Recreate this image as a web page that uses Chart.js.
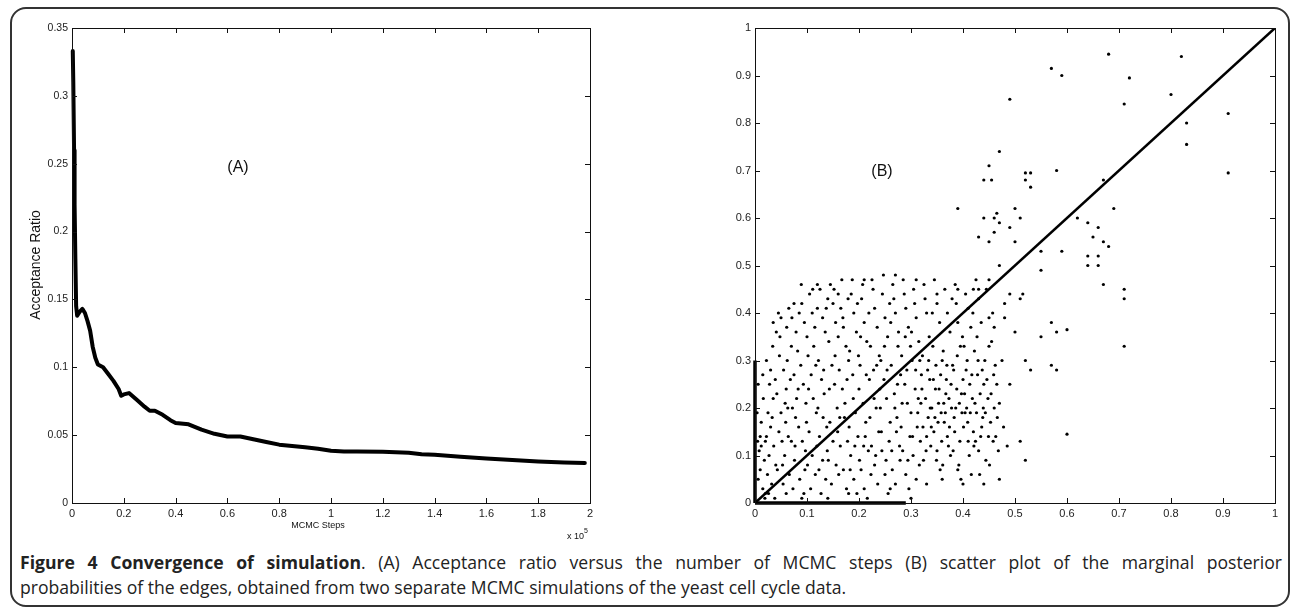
<!doctype html>
<html lang="en">
  <head>
    <meta charset="utf-8">
    <title>Figure 4 Convergence of simulation</title>
    <style>
      * { margin: 0; padding: 0; }
      body { width: 1293px; height: 608px; background: #fff; position: relative; overflow: hidden; font-family: "Liberation Sans", Arial, sans-serif; }
      .frame {
        position: absolute; left: 10px; top: 7px; width: 1276px; height: 596px;
        border: 2px solid #333; border-radius: 16px;
      }
      #chartA { position: absolute; left: 0; top: 0; }
      #chartB { position: absolute; left: 650px; top: 0; }
      .caption {
        position: absolute; left: 20px; top: 550px; width: 1262px;
        font-family: "Open Sans", sans-serif; font-size: 17.6px; line-height: 25px; color: #222;
      }
      .caption .l1 { text-align: justify; text-align-last: justify; white-space: nowrap; }
    </style>
  </head>
  <body>
    <div class="frame"></div>
    <canvas id="chartA" width="640" height="545"></canvas>
    <canvas id="chartB" width="643" height="545"></canvas>
    <div class="caption">
      <div class="l1"><b>Figure 4 Convergence of simulation</b>. (A) Acceptance ratio versus the number of MCMC steps (B) scatter plot of the marginal posterior</div>
      <div>probabilities of the edges, obtained from two separate MCMC simulations of the yeast cell cycle data.</div>
    </div>

    <script src="https://cdn.jsdelivr.net/npm/chart.js"></script>
    <script>
    // (A) acceptance ratio vs MCMC steps
    const mcmcSteps = [300, 500, 800, 1000, 1300, 1600, 2000, 3000, 4000, 5000, 6000, 7000, 8000, 9000,
      10000, 12000, 14000, 16000, 18000, 19000, 20000, 22000, 25000, 28000, 30000, 32000, 35000, 38000,
      40000, 45000, 50000, 55000, 60000, 65000, 70000, 75000, 80000, 85000, 90000, 95000, 100000,
      105000, 110000, 120000, 130000, 135000, 140000, 150000, 160000, 170000, 180000, 190000, 198000];
    const acceptRatio = [0.333, 0.31, 0.26, 0.22, 0.18, 0.145, 0.138, 0.141, 0.143, 0.14, 0.134, 0.127, 0.115, 0.107,
      0.102, 0.1, 0.095, 0.09, 0.084, 0.079, 0.08, 0.081, 0.076, 0.071, 0.068, 0.068, 0.065, 0.061,
      0.059, 0.058, 0.054, 0.051, 0.049, 0.049, 0.047, 0.045, 0.043, 0.042, 0.041, 0.04, 0.0385,
      0.038, 0.038, 0.0377, 0.037, 0.036, 0.0355, 0.034, 0.0328, 0.0316, 0.0305, 0.0298, 0.0295];
    const stepTicks = [0, 0.2, 0.4, 0.6, 0.8, 1, 1.2, 1.4, 1.6, 1.8, 2]; // x 10^5
    const ratioTicks = [0, 0.05, 0.1, 0.15, 0.2, 0.25, 0.3, 0.35];

    // (B) marginal posterior probabilities, run 1 (x) vs run 2 (y)
    const edgePoints = [
      [0.005,0.13],[0.01,0.14],[0.008,0.11],[0.012,0.17],[0.006,0.05],[0.015,0.03],[0.01,0.07],[0.02,0.02],[0.018,0.09],[0.004,0.19],[0.016,0.22],[0.02,0.13],[0.012,0.12],[0.006,0.25],[0.019,0.01],
      [0.025,0.19],[0.03,0.28],[0.028,0.25],[0.035,0.22],[0.03,0.16],[0.024,0.06],[0.032,0.04],[0.038,0.01],[0.027,0.1],[0.036,0.12],[0.04,0.08],[0.022,0.3],[0.034,0.33],[0.039,0.26],[0.026,0.02],
      [0.045,0.4],[0.05,0.39],[0.048,0.35],[0.055,0.28],[0.042,0.23],[0.058,0.21],[0.05,0.19],[0.046,0.15],[0.052,0.13],[0.057,0.1],[0.043,0.07],[0.054,0.04],[0.06,0.24],[0.047,0.31],[0.059,0.17],
      [0.065,0.41],[0.07,0.33],[0.062,0.3],[0.075,0.27],[0.068,0.26],[0.072,0.2],[0.078,0.18],[0.064,0.14],[0.07,0.13],[0.076,0.09],[0.066,0.06],[0.073,0.03],[0.08,0.22],[0.061,0.37],[0.079,0.36],
      [0.085,0.4],[0.09,0.42],[0.095,0.38],[0.082,0.32],[0.088,0.29],[0.093,0.25],[0.098,0.21],[0.084,0.16],[0.091,0.13],[0.097,0.11],[0.086,0.05],[0.094,0.02],[0.1,0.35],[0.089,0.46],[0.099,0.17],
      [0.105,0.44],[0.11,0.4],[0.115,0.37],[0.102,0.31],[0.108,0.27],[0.112,0.22],[0.118,0.19],[0.104,0.15],[0.11,0.1],[0.116,0.06],[0.107,0.03],[0.12,0.41],[0.113,0.33],[0.119,0.12],[0.101,0.08],
      [0.125,0.45],[0.13,0.39],[0.135,0.36],[0.122,0.3],[0.128,0.26],[0.133,0.23],[0.138,0.16],[0.124,0.14],[0.13,0.09],[0.136,0.05],[0.127,0.02],[0.14,0.43],[0.132,0.28],[0.139,0.11],[0.121,0.2],
      [0.145,0.46],[0.15,0.42],[0.155,0.38],[0.142,0.34],[0.148,0.29],[0.153,0.25],[0.158,0.2],[0.144,0.17],[0.15,0.13],[0.156,0.08],[0.147,0.04],[0.16,0.35],[0.152,0.45],[0.159,0.15],[0.141,0.09],
      [0.165,0.41],[0.17,0.37],[0.175,0.33],[0.162,0.28],[0.168,0.24],[0.173,0.21],[0.178,0.13],[0.164,0.12],[0.17,0.07],[0.176,0.03],[0.167,0.47],[0.18,0.3],[0.172,0.18],[0.179,0.43],[0.161,0.06],
      [0.185,0.44],[0.19,0.4],[0.195,0.36],[0.182,0.32],[0.188,0.27],[0.193,0.19],[0.198,0.14],[0.184,0.1],[0.19,0.05],[0.196,0.02],[0.187,0.47],[0.2,0.24],[0.192,0.12],[0.199,0.31],[0.181,0.16],
      [0.205,0.43],[0.21,0.38],[0.215,0.34],[0.202,0.29],[0.208,0.21],[0.213,0.17],[0.218,0.11],[0.204,0.07],[0.21,0.03],[0.216,0.01],[0.207,0.46],[0.22,0.26],[0.212,0.14],[0.219,0.4],[0.201,0.09],
      [0.225,0.47],[0.23,0.41],[0.235,0.37],[0.222,0.33],[0.228,0.28],[0.233,0.2],[0.238,0.15],[0.224,0.12],[0.23,0.08],[0.236,0.04],[0.227,0.45],[0.24,0.24],[0.232,0.1],[0.239,0.31],[0.221,0.18],
      [0.245,0.44],[0.25,0.39],[0.255,0.35],[0.242,0.3],[0.248,0.26],[0.253,0.22],[0.258,0.13],[0.244,0.11],[0.25,0.06],[0.256,0.02],[0.247,0.48],[0.26,0.17],[0.252,0.09],[0.259,0.42],[0.241,0.2],
      [0.265,0.46],[0.27,0.4],[0.275,0.33],[0.262,0.29],[0.268,0.23],[0.273,0.18],[0.278,0.12],[0.264,0.07],[0.27,0.04],[0.276,0.36],[0.267,0.43],[0.28,0.27],[0.272,0.15],[0.279,0.09],[0.261,0.38],
      [0.285,0.47],[0.29,0.41],[0.295,0.37],[0.282,0.31],[0.288,0.25],[0.293,0.21],[0.298,0.14],[0.284,0.11],[0.29,0.06],[0.296,0.03],[0.287,0.44],[0.3,0.19],[0.292,0.28],[0.299,0.33],[0.281,0.16],
      [0.305,0.45],[0.31,0.39],[0.315,0.34],[0.302,0.3],[0.308,0.24],[0.313,0.19],[0.318,0.13],[0.304,0.1],[0.31,0.05],[0.316,0.08],[0.307,0.42],[0.32,0.27],[0.312,0.16],[0.319,0.21],[0.301,0.36],
      [0.325,0.46],[0.33,0.4],[0.335,0.35],[0.322,0.31],[0.328,0.22],[0.333,0.18],[0.338,0.12],[0.324,0.09],[0.33,0.14],[0.336,0.26],[0.327,0.43],[0.34,0.2],[0.332,0.28],[0.339,0.16],[0.321,0.24],
      [0.345,0.47],[0.35,0.42],[0.355,0.38],[0.342,0.33],[0.348,0.29],[0.353,0.21],[0.358,0.19],[0.344,0.15],[0.35,0.11],[0.356,0.07],[0.347,0.24],[0.36,0.3],[0.352,0.17],[0.359,0.13],[0.341,0.4],
      [0.365,0.45],[0.37,0.4],[0.375,0.36],[0.362,0.32],[0.368,0.26],[0.373,0.22],[0.378,0.2],[0.364,0.17],[0.37,0.14],[0.376,0.1],[0.367,0.23],[0.38,0.29],[0.372,0.12],[0.379,0.43],[0.361,0.08],
      [0.385,0.46],[0.39,0.38],[0.395,0.33],[0.382,0.28],[0.388,0.24],[0.393,0.21],[0.398,0.19],[0.384,0.15],[0.39,0.07],[0.396,0.05],[0.387,0.42],[0.4,0.26],[0.392,0.08],[0.399,0.35],[0.381,0.11],
      [0.405,0.44],[0.41,0.41],[0.415,0.37],[0.402,0.33],[0.408,0.3],[0.413,0.25],[0.418,0.22],[0.404,0.19],[0.41,0.13],[0.416,0.06],[0.407,0.2],[0.42,0.15],[0.412,0.1],[0.419,0.4],[0.401,0.16],
      [0.425,0.47],[0.43,0.43],[0.435,0.38],[0.422,0.32],[0.428,0.27],[0.433,0.23],[0.438,0.18],[0.424,0.13],[0.43,0.11],[0.436,0.16],[0.427,0.35],[0.44,0.25],[0.432,0.06],[0.439,0.2],[0.421,0.12],
      [0.445,0.45],[0.45,0.39],[0.455,0.34],[0.442,0.3],[0.448,0.22],[0.453,0.17],[0.458,0.13],[0.444,0.09],[0.46,0.2],[0.465,0.25],[0.468,0.11],[0.462,0.29],[0.457,0.4],[0.466,0.18],[0.451,0.08],
      [0.015,0.27],[0.022,0.14],[0.033,0.18],[0.041,0.36],[0.053,0.08],[0.063,0.2],[0.071,0.39],[0.077,0.12],[0.083,0.24],[0.096,0.07],[0.103,0.24],[0.111,0.45],[0.117,0.29],[0.123,0.07],
      [0.131,0.18],[0.137,0.41],[0.143,0.24],[0.154,0.31],[0.163,0.18],[0.169,0.39],[0.177,0.26],[0.183,0.07],[0.189,0.22],[0.197,0.42],[0.203,0.35],[0.209,0.12],[0.214,0.27],[0.223,0.06],
      [0.229,0.22],[0.234,0.29],[0.243,0.15],[0.249,0.33],[0.254,0.28],[0.263,0.11],[0.269,0.2],[0.274,0.25],[0.283,0.21],[0.289,0.35],[0.294,0.09],[0.303,0.14],[0.309,0.28],[0.314,0.22],
      [0.317,0.3],[0.323,0.16],[0.329,0.11],[0.334,0.3],[0.337,0.2],[0.343,0.26],[0.346,0.18],[0.349,0.09],[0.354,0.24],[0.357,0.27],[0.363,0.21],[0.366,0.19],[0.369,0.29],[0.374,0.16],
      [0.377,0.25],[0.383,0.18],[0.386,0.2],[0.389,0.31],[0.394,0.13],[0.397,0.23],[0.403,0.23],[0.406,0.28],[0.409,0.17],[0.414,0.19],[0.417,0.27],[0.423,0.21],[0.426,0.19],[0.429,0.3],
      [0.434,0.14],[0.437,0.28],[0.443,0.19],[0.446,0.26],[0.449,0.14],[0.454,0.23],[0.459,0.27],[0.463,0.14],[0.47,0.21],[0.475,0.3],[0.478,0.16],[0.48,0.42],[0.485,0.12],[0.49,0.25],
      [0.47,0.05],[0.44,0.04],[0.4,0.04],[0.36,0.05],[0.33,0.04],[0.3,0.01],[0.26,0.03],[0.18,0.02],[0.14,0.01],[0.09,0.01],[0.06,0.02],[0.35,0.44],[0.31,0.47],[0.27,0.48],
      [0.39,0.45],[0.43,0.45],[0.21,0.47],[0.16,0.44],[0.12,0.46],[0.075,0.42],[0.035,0.38],
      [0.57,0.915],[0.59,0.9],[0.68,0.945],[0.82,0.94],[0.72,0.895],[0.8,0.86],[0.71,0.84],[0.91,0.82],[0.83,0.8],[0.83,0.755],[0.91,0.695],[0.49,0.85],
      [0.47,0.74],[0.45,0.71],[0.44,0.68],[0.455,0.68],[0.52,0.695],[0.53,0.695],[0.52,0.68],[0.53,0.665],[0.58,0.7],[0.67,0.68],[0.69,0.62],[0.62,0.6],
      [0.64,0.59],[0.66,0.58],[0.65,0.56],[0.67,0.55],[0.68,0.54],[0.66,0.52],[0.64,0.52],[0.64,0.5],[0.66,0.5],[0.67,0.46],[0.71,0.45],[0.71,0.43],
      [0.71,0.33],[0.6,0.365],[0.6,0.145],[0.57,0.38],[0.58,0.36],[0.57,0.29],[0.58,0.28],[0.55,0.35],[0.59,0.53],[0.55,0.53],[0.55,0.49],[0.5,0.62],
      [0.51,0.6],[0.49,0.58],[0.5,0.55],[0.46,0.6],[0.47,0.59],[0.46,0.57],[0.45,0.55],[0.465,0.61],[0.44,0.6],[0.43,0.56],[0.42,0.45],[0.45,0.47],
      [0.47,0.5],[0.49,0.44],[0.51,0.43],[0.515,0.44],[0.52,0.3],[0.53,0.28],[0.51,0.13],[0.52,0.09],[0.5,0.36],[0.48,0.39],[0.46,0.37],[0.45,0.33],[0.39,0.62]
    ];
    // edges stuck at 0 in one run: they pile up on the axes
    const zeroRow = [[0, 0], [0.29, 0]];
    const zeroCol = [[0, 0], [0, 0.3]];
    const diagonal = [[0, 0], [1, 1]];
    const probTicks = [0, 0.1, 0.2, 0.3, 0.4, 0.5, 0.6, 0.7, 0.8, 0.9, 1];

    const toXY = arr => arr.map(p => ({ x: p[0], y: p[1] }));

    // matlab-ish box with inward ticks + free text
    const boxAxes = {
      id: 'boxAxes',
      afterDraw(chart, args, opts) {
        const { ctx, chartArea: { left, top, right, bottom }, scales: { x, y } } = chart;
        ctx.save();
        ctx.strokeStyle = '#111';
        ctx.lineWidth = 1;
        ctx.strokeRect(Math.round(left) + 0.5, Math.round(top) + 0.5, Math.round(right - left), Math.round(bottom - top));
        ctx.beginPath();
        x.ticks.forEach(t => {
          const px = Math.round(x.getPixelForValue(t.value)) + 0.5;
          ctx.moveTo(px, bottom); ctx.lineTo(px, bottom - 5);
          ctx.moveTo(px, top); ctx.lineTo(px, top + 5);
        });
        y.ticks.forEach(t => {
          const py = Math.round(y.getPixelForValue(t.value)) + 0.5;
          ctx.moveTo(left, py); ctx.lineTo(left + 5, py);
          ctx.moveTo(right, py); ctx.lineTo(right - 5, py);
        });
        ctx.stroke();
        ctx.fillStyle = '#111';
        (opts.texts || []).forEach(t => {
          ctx.save();
          ctx.font = t.font;
          ctx.textAlign = t.align || 'center';
          ctx.textBaseline = 'middle';
          ctx.translate(t.x, t.y);
          if (t.rot) ctx.rotate(t.rot);
          ctx.fillText(t.text, 0, 0);
          ctx.restore();
        });
        ctx.restore();
      }
    };

    const fmt = v => String(parseFloat(Number(v).toFixed(2)));
    const tickFont = { family: '"Liberation Sans", Arial, sans-serif', size: 11 };

    new Chart(document.getElementById('chartA'), {
      type: 'line',
      data: {
        datasets: [{
          data: mcmcSteps.map((s, i) => ({ x: s, y: acceptRatio[i] })),
          borderColor: '#000',
          borderWidth: 4,
          pointRadius: 0,
          tension: 0,
          clip: 6,
          borderJoinStyle: 'round',
          borderCapStyle: 'round'
        }]
      },
      options: {
        responsive: false,
        animation: false,
        devicePixelRatio: 1,
        layout: { padding: { left: 32, top: 28, right: 50, bottom: 22 } },
        plugins: {
          legend: { display: false },
          tooltip: { enabled: false },
          boxAxes: {
            texts: [
              { text: '(A)', x: 238, y: 168, font: '16px "Liberation Sans", Arial, sans-serif' },
              { text: 'Acceptance Ratio', x: 36, y: 265, rot: -Math.PI / 2, font: '14px "Liberation Sans", Arial, sans-serif' },
              { text: 'MCMC Steps', x: 318, y: 526, font: '9px "Liberation Sans", Arial, sans-serif' }
            ]
          }
        },
        scales: {
          x: {
            type: 'linear', min: 0, max: 200000,
            afterBuildTicks: s => { s.ticks = stepTicks.map(v => ({ value: v * 1e5 })); },
            afterFit: s => { s.height = 20; },
            grid: { display: false, drawTicks: false },
            border: { display: false },
            ticks: { font: tickFont, color: '#222', padding: 4, maxRotation: 0, autoSkip: false, callback: v => fmt(v / 1e5) }
          },
          y: {
            min: 0, max: 0.35,
            afterBuildTicks: s => { s.ticks = ratioTicks.map(v => ({ value: v })); },
            afterFit: s => { s.width = 40; },
            grid: { display: false, drawTicks: false },
            border: { display: false },
            ticks: { font: { family: tickFont.family, size: 10.5 }, color: '#222', padding: 4, autoSkip: false, callback: v => fmt(v) }
          }
        }
      },
      plugins: [boxAxes, {
        id: 'expLabel',
        afterDraw(chart) {
          const { ctx, chartArea: { right } } = chart;
          ctx.save();
          ctx.fillStyle = '#111';
          ctx.font = '9px "Liberation Sans", Arial, sans-serif';
          ctx.textAlign = 'right';
          ctx.textBaseline = 'alphabetic';
          ctx.fillText('x 10', right - 6, 539);
          ctx.font = '7px "Liberation Sans", Arial, sans-serif';
          ctx.textAlign = 'left';
          ctx.fillText('5', right - 6, 533);
          ctx.restore();
        }
      }]
    });

    new Chart(document.getElementById('chartB'), {
      type: 'scatter',
      data: {
        datasets: [
          { type: 'line', data: toXY(diagonal), borderColor: '#000', borderWidth: 2.5, pointRadius: 0 },
          { type: 'line', data: toXY(zeroRow), borderColor: '#000', borderWidth: 3.5, pointRadius: 0, clip: 4 },
          { type: 'line', data: toXY(zeroCol), borderColor: '#000', borderWidth: 3.5, pointRadius: 0, clip: 4 },
          { data: toXY(edgePoints), backgroundColor: '#000', borderWidth: 0, pointRadius: 1.6 }
        ]
      },
      options: {
        responsive: false,
        animation: false,
        devicePixelRatio: 1,
        layout: { padding: { left: 65, top: 28, right: 18, bottom: 22 } },
        plugins: {
          legend: { display: false },
          tooltip: { enabled: false },
          boxAxes: {
            texts: [
              { text: '(B)', x: 232, y: 172, font: '16px "Liberation Sans", Arial, sans-serif' }
            ]
          }
        },
        scales: {
          x: {
            type: 'linear', min: 0, max: 1,
            afterBuildTicks: s => { s.ticks = probTicks.map(v => ({ value: v })); },
            afterFit: s => { s.height = 20; },
            grid: { display: false, drawTicks: false },
            border: { display: false },
            ticks: { font: tickFont, color: '#222', padding: 4, maxRotation: 0, autoSkip: false, callback: v => fmt(v) }
          },
          y: {
            min: 0, max: 1,
            afterBuildTicks: s => { s.ticks = probTicks.map(v => ({ value: v })); },
            afterFit: s => { s.width = 40; },
            grid: { display: false, drawTicks: false },
            border: { display: false },
            ticks: { font: tickFont, color: '#222', padding: 4, autoSkip: false, callback: v => fmt(v) }
          }
        }
      },
      plugins: [boxAxes]
    });
    </script>
  </body>
</html>
